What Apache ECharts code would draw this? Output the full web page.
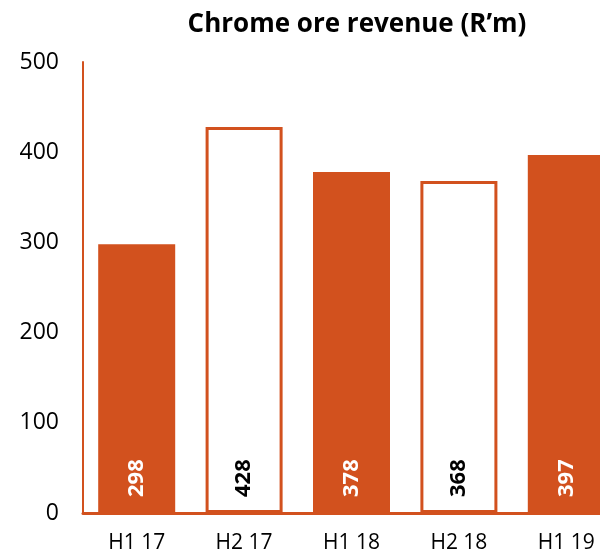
<!DOCTYPE html>
<html><head><meta charset="utf-8">
<script src="https://cdn.jsdelivr.net/npm/echarts@6/dist/echarts.min.js"></script>
<style>html,body{margin:0;padding:0;background:#fff}#c{width:600px;height:559px}</style>
</head><body><div id="c"></div>
<script>
const categories = ['H1 17','H2 17','H1 18','H2 18','H1 19'];
const revenue = [298, 428, 378, 368, 397];
const filled = [true, false, true, false, true];
const yTicks = [0, 100, 200, 300, 400, 500];
const ORANGE = '#D2511E';
const FONT = '"Open Sans", sans-serif';

const chart = echarts.init(document.getElementById('c'), null, {renderer: 'canvas'});
chart.setOption({
  animation: false,
  title: {
    text: 'Chrome ore revenue (R\u2019m)',
    left: 352, top: 7, textAlign: 'center',
    textStyle: {fontFamily: FONT, fontWeight: 'bold', fontSize: 26, color: '#000'}
  },
  grid: {left: 83, width: 537, top: 62, bottom: 46, containLabel: false, outerBoundsMode: 'none'},
  xAxis: {
    type: 'category', data: categories,
    axisLine: {show: true, lineStyle: {color: ORANGE, width: 3}},
    axisTick: {show: false},
    axisLabel: {color: '#000', fontFamily: FONT, fontSize: 21, margin: 20}
  },
  yAxis: {
    type: 'value', min: yTicks[0], max: yTicks[yTicks.length-1], interval: 100,
    axisLine: {show: true, lineStyle: {color: ORANGE, width: 2}},
    axisTick: {show: false},
    splitLine: {show: false},
    axisLabel: {color: '#000', fontFamily: FONT, fontSize: 23, margin: 24}
  },
  series: [{
    type: 'bar', barWidth: 77,
    data: revenue.map((v, i) => ({
      value: v,
      itemStyle: filled[i]
        ? {color: ORANGE, borderWidth: 0}
        : {color: '#fff', borderColor: ORANGE, borderWidth: 3},
      label: {color: filled[i] ? '#fff' : '#000'}
    })),
    label: {
      show: true, position: 'insideBottom', distance: 16,
      rotate: 90, align: 'left', verticalAlign: 'middle',
      fontFamily: FONT, fontWeight: 'bold', fontSize: 22
    }
  }]
});
</script></body></html>
